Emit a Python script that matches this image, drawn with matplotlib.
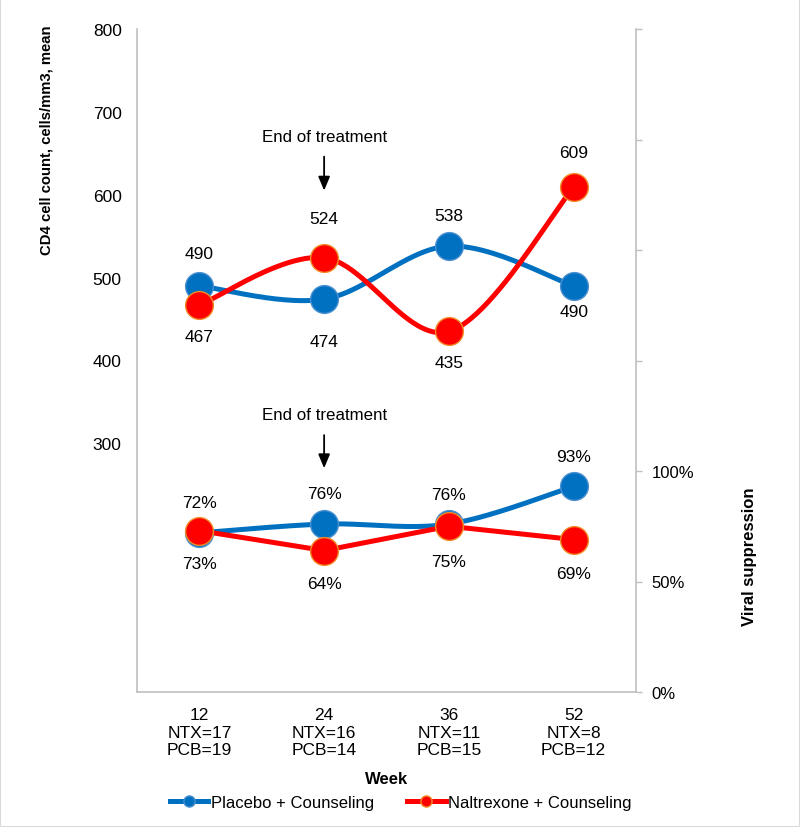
import numpy as np
import matplotlib
matplotlib.use("Agg")
import matplotlib.pyplot as plt
from matplotlib.lines import Line2D
from matplotlib.patches import Rectangle

plt.rcParams['font.family'] = ['Liberation Sans', 'DejaVu Sans']

week_labels = ["12\nNTX=17\nPCB=19", "24\nNTX=16\nPCB=14",
               "36\nNTX=11\nPCB=15", "52\nNTX=8\nPCB=12"]
cd4_placebo = [490, 474, 538, 490]
cd4_naltrexone = [467, 524, 435, 609]
vs_placebo = [72, 76, 76, 93]
vs_naltrexone = [73, 64, 75, 69]

BLUE = '#0070C0'
RED = '#FF0000'

# label offsets (pixels, up = positive)
dy_cd4_pl = [32, -42, 31, -26]
dy_cd4_nx = [-32, 39, -31, 35]
dy_vs_pl = [30, 31, 30, 30]
dy_vs_nx = [-33, -33, -35, -34]


def smooth(xs, ys, n=50):
    # excel-like smoothed line (bezier through the points)
    pts = np.column_stack([xs, ys]).astype(float)
    p = np.vstack([pts[0], pts, pts[-1]])
    t = np.linspace(0, 1, n)[:, None]
    out = []
    for i in range(len(pts) - 1):
        p0, p1, p2, p3 = p[i], p[i + 1], p[i + 2], p[i + 3]
        c1 = p1 + (p2 - p0) / 6
        c2 = p2 - (p3 - p1) / 6
        out.append((1 - t) ** 3 * p1 + 3 * (1 - t) ** 2 * t * c1
                   + 3 * (1 - t) * t ** 2 * c2 + t ** 3 * p2)
    out = np.vstack(out)
    return out[:, 0], out[:, 1]


fig = plt.figure(figsize=(8, 8.28), dpi=100)
ax = fig.add_axes([137 / 800, 1 - 693 / 828, 499 / 800, 663 / 828])
ax2 = ax.twinx()

x = np.arange(len(week_labels))
mk = dict(marker='o', markersize=20, linestyle='none', zorder=4)
FS = 12.5

# top panel: CD4 count
sx, sy = smooth(x, cd4_placebo)
ax.plot(sx, sy, color=BLUE, lw=3.6, solid_capstyle='round', zorder=3)
ax.plot(x, cd4_placebo, color=BLUE, markeredgecolor='#4A90D0', markeredgewidth=1, **mk)
sx, sy = smooth(x, cd4_naltrexone)
ax.plot(sx, sy, color=RED, lw=3.6, solid_capstyle='round', zorder=3)
ax.plot(x, cd4_naltrexone, color=RED, markeredgecolor='#F08C28', markeredgewidth=1, **mk)

for xi, v, d in zip(x, cd4_placebo, dy_cd4_pl):
    ax.annotate(str(v), (xi, v), xytext=(0, d * 0.72), textcoords='offset points',
                ha='center', va='center', fontsize=FS)
for xi, v, d in zip(x, cd4_naltrexone, dy_cd4_nx):
    ax.annotate(str(v), (xi, v), xytext=(0, d * 0.72), textcoords='offset points',
                ha='center', va='center', fontsize=FS)

# bottom panel: viral suppression
vp = np.array(vs_placebo) / 100
vn = np.array(vs_naltrexone) / 100
sx, sy = smooth(x, vp)
ax2.plot(sx, sy, color=BLUE, lw=3.6, solid_capstyle='round', zorder=3)
ax2.plot(x, vp, color=BLUE, markeredgecolor='#4A90D0', markeredgewidth=1, **mk)
ax2.plot(x, vn, color=RED, lw=3.6, solid_capstyle='round', zorder=3)
ax2.plot(x, vn, color=RED, markeredgecolor='#F08C28', markeredgewidth=1, **mk)

for xi, v, d in zip(x, vs_placebo, dy_vs_pl):
    ax2.annotate(f"{v}%", (xi, v / 100), xytext=(0, d * 0.72), textcoords='offset points',
                 ha='center', va='center', fontsize=FS)
for xi, v, d in zip(x, vs_naltrexone, dy_vs_nx):
    ax2.annotate(f"{v}%", (xi, v / 100), xytext=(0, d * 0.72), textcoords='offset points',
                 ha='center', va='center', fontsize=FS)

# end of treatment arrows
for a, ytxt, y0, y1 in [(ax, 670, 646, 605), (ax, 335, 310, 270)]:
    a.text(1, ytxt, "End of treatment", ha='center', va='center', fontsize=12.2)
    a.annotate("", xy=(1, y1), xytext=(1, y0),
               arrowprops=dict(arrowstyle='-|>,head_length=0.6,head_width=0.25',
                               color='black', lw=1.3,
                               mutation_scale=14, shrinkA=0, shrinkB=0))

ax.set_xlim(-0.5, 3.5)
ax.set_ylim(0, 800)
ax2.set_ylim(0, 3.0)

ax.set_xticks(x)
ax.set_xticklabels(week_labels, fontsize=FS, linespacing=1.2)
ax.set_yticks([300, 400, 500, 600, 700, 800])
ax.tick_params(axis='y', length=0, pad=11, labelsize=FS)
ax.tick_params(axis='x', length=0, pad=11)

ax2.set_yticks(np.arange(0, 3.01, 0.5))
ax2.set_yticklabels(['0%', '50%', '100%', '', '', '', ''])
ax2.tick_params(axis='y', length=4, width=1, color='#BFBFBF', pad=7, labelsize=12)

for a in (ax, ax2):
    a.spines['top'].set_visible(False)
    for s in ('left', 'right', 'bottom'):
        a.spines[s].set_color('#BFBFBF')
        a.spines[s].set_linewidth(1.2)
ax.spines['right'].set_visible(False)
ax2.spines['left'].set_visible(False)
ax2.spines['bottom'].set_visible(False)

ax.set_ylabel("CD4 cell count, cells/mm3, mean", fontsize=10.7, fontweight='bold')
ax.yaxis.set_label_coords(-0.168, 0.833)
ax2.set_ylabel("Viral suppression", fontsize=12, fontweight='bold')
ax2.yaxis.set_label_coords(1.212, 0.205)
ax.set_xlabel("Week", fontsize=12, fontweight='bold')
ax.xaxis.set_label_coords(0.5, -0.119)

handles = [
    Line2D([], [], color=BLUE, lw=3.6, marker='o', markersize=8,
           markeredgecolor='#4A90D0'),
    Line2D([], [], color=RED, lw=3.6, marker='o', markersize=8,
           markeredgecolor='#F08C28'),
]
fig.legend(handles, ["Placebo + Counseling", "Naltrexone + Counseling"],
           loc='center', bbox_to_anchor=(0.501, 0.030), ncol=2, frameon=False,
           fontsize=12, handlelength=2.3, handletextpad=0.15, columnspacing=2.0)

fig.patches.append(Rectangle((0, 0), 1, 1, transform=fig.transFigure, fill=False,
                             ec='#D9D9D9', lw=1.5))

fig.savefig("out.png", dpi=100)
